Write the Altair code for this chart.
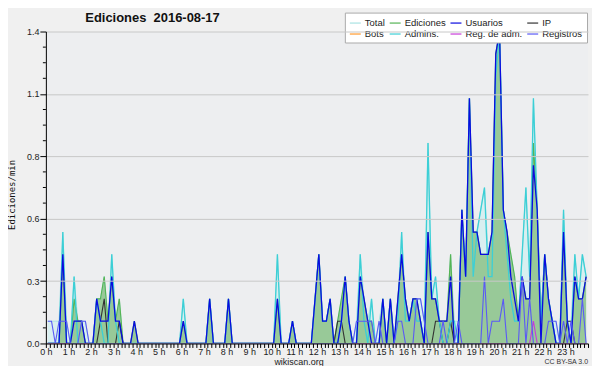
import altair as alt
import pandas as pd

# ---- data: edits per minute, 10-minute bins, 6 values per hour (rows = hours 0..23) ----
total = [
    [.1, .1, .1, .1, .5, .1], [0, .3, .1, .1, .1, 0], [0, .2, .2, .3, .1, .4], [.1, .2, 0, 0, 0, .1],
    [0, 0, 0, 0, 0, 0], [0, 0, 0, 0, 0, 0], [.2, 0, 0, 0, 0, 0], [0, .2, 0, 0, 0, 0],
    [.2, 0, 0, 0, 0, 0], [0, 0, 0, 0, 0, 0], [0, .4, 0, 0, 0, .1], [0, 0, 0, 0, 0, .2],
    [.4, .1, .1, .2, 0, .1], [.2, .3, .1, 0, .1, .4], [.2, .1, .2, 0, .1, .2], [0, .2, 0, .2, .5, .2],
    [.1, .2, .2, .2, .1, .9], [.2, .3, .1, .1, .1, .4], [.1, .1, .6, .3, 1.1, .5], [.5, .6, .7, .4, .5, 1.3],
    [1.4, .6, .5, .4, .3, .1], [.4, .7, .3, 1.1, .6, .1], [.4, .2, .1, .1, 0, .6], [.1, .1, .4, .2, .4, .3],
]
ediciones = [
    [0, 0, 0, 0, .4, 0], [0, .2, .1, .1, 0, 0], [0, .2, .2, .3, .1, .3], [.1, .2, 0, 0, 0, .1],
    [0, 0, 0, 0, 0, 0], [0, 0, 0, 0, 0, 0], [.1, 0, 0, 0, 0, 0], [0, .2, 0, 0, 0, 0],
    [.2, 0, 0, 0, 0, 0], [0, 0, 0, 0, 0, 0], [0, .2, 0, 0, 0, .1], [0, 0, 0, 0, 0, .2],
    [.4, .1, .1, .2, 0, .1], [.2, .3, .1, 0, 0, .3], [.2, .1, .1, 0, 0, .2], [0, .2, 0, .2, .4, .2],
    [.1, .2, .2, .1, 0, .5], [.2, .2, .1, .1, .1, .4], [0, 0, .6, .3, 1.1, .5], [.5, .4, .4, .4, .5, 1.3],
    [1.4, .6, .5, .4, .3, .1], [.3, .2, .2, .9, .6, .1], [.4, .2, .1, 0, 0, .5], [.1, 0, .3, .2, .2, .3],
]
usuarios = [
    [0, 0, 0, 0, .4, 0], [0, .1, .1, .1, 0, 0], [0, .2, .1, .1, .1, .3], [.1, .1, 0, 0, 0, .1],
    [0, 0, 0, 0, 0, 0], [0, 0, 0, 0, 0, 0], [.1, 0, 0, 0, 0, 0], [0, .2, 0, 0, 0, 0],
    [.2, 0, 0, 0, 0, 0], [0, 0, 0, 0, 0, 0], [0, .2, 0, 0, 0, .1], [0, 0, 0, 0, 0, .2],
    [.4, .1, .1, .2, 0, 0], [.1, .3, .1, 0, 0, .3], [.2, .1, 0, 0, 0, .2], [0, .2, 0, .2, .4, .2],
    [.1, .2, .2, .1, 0, .5], [.2, .2, .1, .1, .1, .3], [0, 0, .6, .3, 1.1, .5], [.5, .4, .4, .4, .5, 1.3],
    [1.4, .6, .5, .3, .2, .1], [.3, .2, .2, .8, .6, 0], [.4, .2, .1, 0, 0, .5], [.1, 0, .3, .2, .2, .3],
]
admins = [
    [0, 0, 0, 0, .5, 0], [0, .3, 0, 0, 0, 0], [0, .2, .1, 0, 0, .4], [.1, 0, 0, 0, 0, 0],
    [0, 0, 0, 0, 0, 0], [0, 0, 0, 0, 0, 0], [.2, 0, 0, 0, 0, 0], [0, .2, 0, 0, 0, 0],
    [.2, 0, 0, 0, 0, 0], [0, 0, 0, 0, 0, 0], [0, .4, 0, 0, 0, .1], [0, 0, 0, 0, 0, .2],
    [.4, .1, .1, .2, 0, 0], [.1, .3, .1, 0, 0, .4], [.1, 0, .2, 0, 0, .2], [0, .2, 0, .1, .5, .1],
    [.1, .2, .1, .1, 0, .9], [.2, .3, .1, 0, 0, .1], [.1, 0, .6, .3, 1.1, .3], [.5, .6, .7, .3, .3, 1.2],
    [1.4, .6, .4, .2, .1, .1], [.4, .7, .3, 1.1, .6, .1], [.4, .2, .1, 0, 0, .6], [.1, 0, .4, .2, .4, .3],
]
registros = [
    [.1, .1, 0, .1, .1, .1], [0, 0, 0, .1, .1, 0], [0, 0, 0, 0, 0, 0], [0, 0, 0, 0, 0, 0],
    [0, 0, 0, 0, 0, 0], [0, 0, 0, 0, 0, 0], [0, 0, 0, 0, 0, 0], [0, 0, 0, 0, 0, 0],
    [0, 0, 0, 0, 0, 0], [0, 0, 0, 0, 0, 0], [0, 0, 0, 0, 0, 0], [0, 0, 0, 0, 0, 0],
    [0, 0, 0, 0, 0, 0], [0, 0, 0, 0, .1, .1], [.1, .1, .1, 0, .1, 0], [0, 0, 0, .1, .1, 0],
    [0, 0, .2, .2, .1, 0], [0, 0, 0, .1, 0, 0], [0, .1, 0, 0, 0, 0], [0, 0, .3, 0, .1, .1],
    [.1, .2, 0, 0, 0, 0], [.3, 0, .2, 0, 0, 0], [0, .1, .1, .1, 0, .1], [0, .1, 0, 0, .2, 0],
]
ip = [
    [0, 0, 0, 0, 0, 0], [0, 0, 0, 0, 0, 0], [0, 0, .1, .2, 0, 0], [0, .1, 0, 0, 0, 0],
    [0, 0, 0, 0, 0, 0], [0, 0, 0, 0, 0, 0], [0, 0, 0, 0, 0, 0], [0, 0, 0, 0, 0, 0],
    [0, 0, 0, 0, 0, 0], [0, 0, 0, 0, 0, 0], [0, 0, 0, 0, 0, 0], [0, 0, 0, 0, 0, 0],
    [0, 0, 0, 0, 0, .1], [.1, 0, 0, 0, 0, 0], [0, 0, 0, 0, 0, 0], [0, 0, 0, 0, 0, 0],
    [0, 0, 0, 0, 0, 0], [0, .1, .1, 0, 0, .1], [0, 0, 0, 0, 0, 0], [0, 0, 0, 0, 0, 0],
    [0, 0, 0, 0, 0, 0], [0, 0, 0, 0, 0, 0], [0, 0, 0, 0, 0, 0], [.1, .1, 0, 0, 0, 0],
]
reg_adm = [[0] * 6 for _ in range(21)] + [[0, 0, 0, .1, 0, 0]] + [[0] * 6 for _ in range(2)]

series_names = ["Total", "Ediciones", "Usuarios", "IP", "Bots", "Admins.", "Reg. de adm.", "Registros"]
series_colors = ["#a9e3e3", "#55b455", "#0a0ae0", "#333333", "#ff9a2e", "#3ccfd6", "#c83cd8", "#5a5af5"]
y_ticks = [0, 0.28, 0.56, 0.84, 1.12, 1.4]
y_minor = [0.07, 0.14, 0.21, 0.35, 0.42, 0.49, 0.63, 0.70, 0.77, 0.91, 0.98, 1.05, 1.19, 1.26, 1.33]
x_ticks = [round(i / 6, 6) for i in range(145)]

data = {"Total": total, "Ediciones": ediciones, "Usuarios": usuarios, "IP": ip,
        "Admins.": admins, "Reg. de adm.": reg_adm, "Registros": registros}
rows = []
for name, hrs in data.items():
    flat = [v for h in hrs for v in h]
    for i, v in enumerate(flat):
        rows.append({"t": (i + 0.5) / 6, "serie": name, "v": v})
df = pd.DataFrame(rows)

FONT = "Liberation Sans"
x_scale = alt.Scale(domain=[0, 24], nice=False, zero=False)
y_scale = alt.Scale(domain=[0, 1.4], nice=False)
x_axis = alt.Axis(values=x_ticks, title=None, grid=False, tickSize=4, tickColor="black",
                  domainColor="black", labelFontSize=9, labelFont=FONT, labelColor="#222",
                  labelPadding=0, labelOverlap=False, labelFlush=False, labelBound=False, zindex=1,
                  labelExpr="abs(datum.value - round(datum.value)) < 0.01 && datum.value < 23.5 ? round(datum.value) + ' h' : ''")
y_axis = alt.Axis(values=y_ticks, format=".1f", title=None, grid=True, gridColor="#c8c8c8",
                  tickSize=6, tickColor="black", domainColor="black", labelFontSize=9,
                  labelFont=FONT, labelColor="#222", labelPadding=1, zindex=1)
X = alt.X("t:Q", scale=x_scale, axis=x_axis)
Y = alt.Y("v:Q", scale=y_scale, axis=y_axis)

legend = alt.Legend(title=None, orient="none", legendX=300, legendY=-19, columns=4,
                    direction="horizontal", gridAlign="each",
                    symbolType="stroke", symbolSize=121, symbolStrokeWidth=1.2,
                    labelFont=FONT, labelFontSize=9.5, labelColor="#222", labelOffset=3,
                    columnPadding=1, rowPadding=-1, padding=4, fillColor="white",
                    strokeColor="#aaaaaa")
color = alt.Color("serie:N", scale=alt.Scale(domain=series_names, range=series_colors), legend=legend)

def sel(name):
    return alt.Chart(df).transform_filter(alt.datum.serie == name)

layers = [
    sel("Total").mark_area(color="#d8eff0").encode(x=X, y=Y),
    sel("Ediciones").mark_area(color="#98c998").encode(x=X, y=Y),
]
widths = {"Total": 1, "Ediciones": 1.2, "IP": 1.1, "Admins.": 1.3, "Usuarios": 1.3,
          "Reg. de adm.": 1.1, "Registros": 1.1}
for name in ["Total", "Ediciones", "IP", "Admins.", "Usuarios", "Reg. de adm.", "Registros"]:
    layers.append(sel(name).mark_line(strokeWidth=widths[name]).encode(x=X, y=Y, color=color))

minor = pd.DataFrame({"v": y_minor})
layers.append(alt.Chart(minor).mark_rule(color="black").encode(
    y=Y, x=alt.value(-3), x2=alt.value(0)))

one = pd.DataFrame({"a": [0]})
layers.append(alt.Chart(one).mark_rect(color="#8c8c8c").encode(
    x=alt.value(303), x2=alt.value(544), y=alt.value(-16), y2=alt.value(10)))
layers.append(alt.Chart(one).mark_text(text="Ediciones\u00a0 2016-08-17", font=FONT, fontSize=13,
                                      fontWeight="bold", color="#111", align="center",
                                      baseline="middle").encode(x=alt.value(107), y=alt.value(-14)))
layers.append(alt.Chart(one).mark_text(text="Ediciones/min", font="DejaVu Sans Mono", fontSize=9,
                                      angle=270, color="#111", align="center",
                                      baseline="middle").encode(x=alt.value(-34), y=alt.value(164)))
layers.append(alt.Chart(one).mark_text(text="wikiscan.org", font=FONT, fontSize=9, color="#222",
                                      align="center", baseline="middle").encode(
    x=alt.value(254), y=alt.value(332)))
layers.append(alt.Chart(one).mark_text(text="CC BY-SA 3.0", font=FONT, fontSize=7, color="#333",
                                      align="right", baseline="middle").encode(
    x=alt.value(544), y=alt.value(332)))

chart = alt.layer(*layers).properties(
    width=544, height=313,
    padding={"left": 38, "top": 23, "right": 4, "bottom": 22},
    autosize=alt.AutoSizeParams(type="none"),
    background="#f0f0f0",
).configure_view(fill="#edeef0", stroke=None)

chart.save("out.html", embed_options={"renderer": "svg", "actions": False})
